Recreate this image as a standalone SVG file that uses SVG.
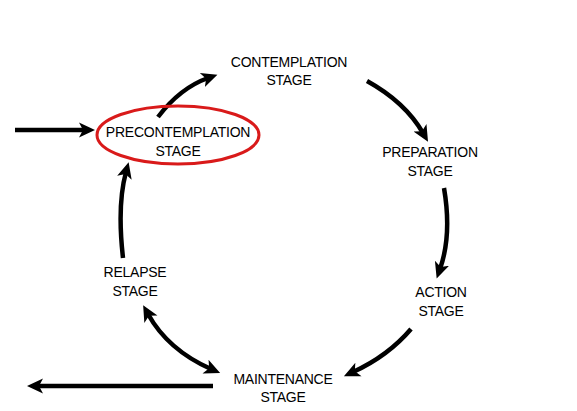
<svg xmlns="http://www.w3.org/2000/svg" width="577" height="411" viewBox="0 0 577 411">
<style>
text{font-family:"Liberation Sans",Arial,sans-serif;font-size:14px;fill:#000;text-anchor:middle;letter-spacing:-0.25px}
.a{fill:none;stroke:#000;stroke-width:4.5;marker-end:url(#ah)}
</style>
<defs>
<marker id="ah" markerUnits="userSpaceOnUse" markerWidth="20" markerHeight="20" viewBox="0 -10 20 20" refX="6" refY="0" orient="auto-start-reverse">
<path d="M0,-7.5 L16,0 L0,7.5 L4,0 Z" fill="#000"/>
</marker>
</defs>
<rect width="577" height="411" fill="#fff"/>
<g id="connectors">
<path class="a" d="M15,130 L85,130"/>
<path class="a" d="M158,117 Q180,88 208,78"/>
<path class="a" d="M367,81 Q405,102 423,133"/>
<path class="a" d="M444,188 Q452,235 440,269"/>
<path class="a" d="M411,329 Q388,356 353,372"/>
<path class="a" style="marker-start:url(#ah)" d="M148,314 Q168,350 211,369"/>
<path class="a" d="M123,258 Q117,205 126,172"/>
<path class="a" d="M213,386 L37,386"/>
</g>
<g id="precontemplation">
<ellipse cx="178" cy="135" rx="81" ry="29" fill="none" stroke="#d91a1a" stroke-width="3"/>
<text x="178" y="137">PRECONTEMPLATION</text>
<text x="178" y="156">STAGE</text>
</g>
<g id="contemplation">
<text x="289" y="67">CONTEMPLATION</text>
<text x="289" y="85">STAGE</text>
</g>
<g id="preparation">
<text x="430" y="157">PREPARATION</text>
<text x="430" y="176">STAGE</text>
</g>
<g id="action">
<text x="441" y="297">ACTION</text>
<text x="441" y="316">STAGE</text>
</g>
<g id="relapse">
<text x="135" y="277">RELAPSE</text>
<text x="135" y="296">STAGE</text>
</g>
<g id="maintenance">
<text x="283" y="384">MAINTENANCE</text>
<text x="283" y="402">STAGE</text>
</g>
</svg>
